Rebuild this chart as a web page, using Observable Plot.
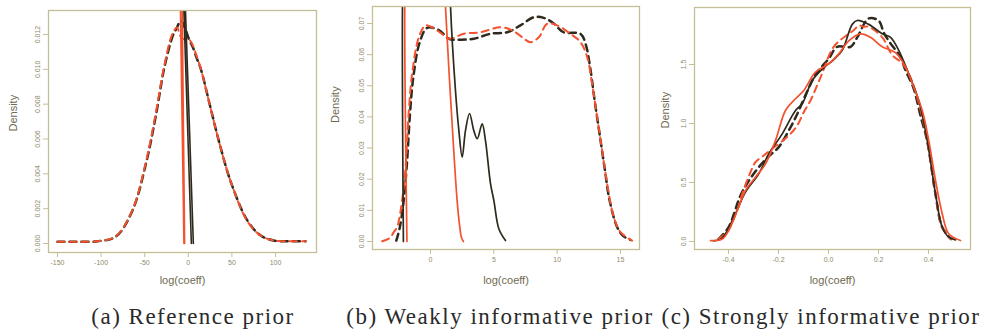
<!DOCTYPE html>
<html>
<head>
<meta charset="utf-8">
<script src="https://cdn.jsdelivr.net/npm/d3@7"></script>
<script src="https://cdn.jsdelivr.net/npm/@observablehq/plot@0.6"></script>
<style>
  html, body { margin: 0; padding: 0; background: #ffffff; }
  #wrap { position: relative; width: 987px; height: 336px; overflow: hidden; background: #fff; }
  .panel { position: absolute; top: 0; }
  .cap { position: absolute; top: 304px; font-family: "Liberation Serif", "DejaVu Serif", serif; font-size: 23px; letter-spacing: 1.5px; color: #2a2a2a; white-space: nowrap; transform: translateX(-50%); }
</style>
</head>
<body>
<div id="wrap">
  <div class="panel" id="pa" style="left:0px"></div>
  <div class="panel" id="pb" style="left:330px"></div>
  <div class="panel" id="pc" style="left:660px"></div>
  <div class="cap" style="left:193px">(a) Reference prior</div>
  <div class="cap" style="left:500px">(b) Weakly informative prior</div>
  <div class="cap" style="left:821px">(c) Strongly informative prior</div>
</div>
<script>
// ---------- Panel (a): Reference prior ----------
const aXTicks = [-150, -100, -50, 0, 50, 100];
const aYTicks = [0, 0.002, 0.004, 0.006, 0.008, 0.010, 0.012];
const aDashRedX = [-150, -130, -104.5, -83.5, -64.3, -49, -37.6, -28, -18.5, -13, -9, -4, 1, 5, 10, 14, 23.5, 35, 48.4, 67.5, 82.8, 98, 115, 134.4];
const aDashRedY = [0.0001, 0.0001, 0.00013, 0.0004, 0.0019, 0.0046, 0.0074, 0.0101, 0.0120, 0.0124, 0.0119, 0.0117, 0.0117, 0.0114, 0.0107, 0.0101, 0.0082, 0.0059, 0.0036, 0.0013, 0.00046, 0.00017, 0.00013, 0.00013];
const aDashDarkX = [-150, -130, -104, -83, -64, -48.5, -37, -27.5, -18, -13, -8.5, -4, 1, 5, 10, 14.5, 24, 35.5, 49, 68, 83, 98, 115, 134.4];
const aDashDarkY = [0.0001, 0.0001, 0.00013, 0.0004, 0.0019, 0.0046, 0.0074, 0.0101, 0.0119, 0.0124, 0.0128, 0.0124, 0.0117, 0.0113, 0.0106, 0.0100, 0.0081, 0.0058, 0.0035, 0.0013, 0.00046, 0.00017, 0.00013, 0.00013];
const aSolidRedX = [-5.0, -9.3, -7.2, -4.2];
const aSolidRedY = [0, 0.0145, 0.0145, 0];
const aSolidDarkX = [3.5, -5.8, -4.0, 5.8];
const aSolidDarkY = [0, 0.0145, 0.0145, 0];

// ---------- Panel (b): Weakly informative prior ----------
const bXTicks = [0, 5, 10, 15];
const bYTicks = [0, 0.01, 0.02, 0.03, 0.04, 0.05, 0.06, 0.07];
const bDashRedX = [-3.81, -3.2, -2.9, -2.63, -2.5, -2.24, -1.97, -1.71, -1.45, -0.92, -0.39, 0.13, 0.8, 1.45, 2.63, 3.95, 5.53, 6.45, 7.24, 7.89, 8.55, 9.21, 10.0, 11.05, 11.84, 12.37, 12.76, 13.16, 13.55, 13.95, 14.47, 15.0, 15.92];
const bDashRedY = [0.0001, 0.0012, 0.003, 0.0046, 0.0067, 0.0132, 0.0239, 0.0421, 0.0539, 0.0656, 0.0694, 0.0688, 0.0670, 0.0651, 0.0667, 0.0672, 0.0688, 0.0678, 0.0656, 0.0640, 0.0656, 0.0699, 0.0694, 0.0667, 0.0640, 0.0592, 0.0506, 0.0399, 0.0292, 0.0185, 0.0078, 0.0030, 0.0003];
const bDashDarkX = [-2.7, -2.45, -2.15, -1.88, -1.62, -1.35, -0.85, -0.26, 0.66, 1.45, 2.37, 3.42, 4.74, 6.05, 7.1, 8.15, 8.94, 9.73, 10.5, 11.84, 12.24, 12.6, 12.95, 13.35, 13.75, 14.15, 14.74, 15.2, 15.79];
const bDashDarkY = [0.0003, 0.004, 0.012, 0.024, 0.041, 0.053, 0.064, 0.0686, 0.0679, 0.0651, 0.0648, 0.0651, 0.0667, 0.0672, 0.0694, 0.0720, 0.0718, 0.0700, 0.0672, 0.0667, 0.0635, 0.0560, 0.0455, 0.0345, 0.0235, 0.0130, 0.0046, 0.0018, 0.0005];
const bSolidRedX = [-1.86, -2.02, -1.9, 1.05, 1.18, 1.6, 2.1, 2.3, 2.45, 2.6];
const bSolidRedY = [0, 0.08, 0.09, 0.09, 0.0755, 0.045, 0.0132, 0.005, 0.0012, 0];
const bSolidDarkX = [-2.14, -2.2, -2.1, 1.5, 1.58, 1.97, 2.24, 2.5, 2.76, 3.08, 3.42, 3.69, 4.08, 4.34, 4.74, 5.0, 5.4, 5.92];
const bSolidDarkY = [0, 0.08, 0.09, 0.09, 0.0755, 0.0485, 0.0356, 0.0271, 0.0356, 0.0411, 0.0356, 0.0330, 0.0378, 0.0324, 0.0185, 0.0132, 0.0040, 0.0003];

// ---------- Panel (c): Strongly informative prior ----------
const cXTicks = [-0.4, -0.2, 0.0, 0.2, 0.4];
const cYTicks = [0.0, 0.5, 1.0, 1.5];
const cSolidRedX = [-0.472, -0.425, -0.399, -0.365, -0.332, -0.292, -0.252, -0.212, -0.172, -0.132, -0.099, -0.052, 0.001, 0.041, 0.081, 0.128, 0.168, 0.215, 0.268, 0.308, 0.335, 0.375, 0.401, 0.428, 0.455, 0.481, 0.528];
const cSolidRedY = [0.008, 0.02, 0.093, 0.263, 0.432, 0.545, 0.658, 0.856, 1.11, 1.21, 1.28, 1.435, 1.506, 1.59, 1.70, 1.76, 1.73, 1.65, 1.60, 1.48, 1.34, 1.11, 0.856, 0.517, 0.235, 0.065, 0.008];
const cSolidDarkX = [-0.46, -0.43, -0.412, -0.372, -0.332, -0.279, -0.239, -0.185, -0.132, -0.105, -0.065, -0.02, 0.02, 0.055, 0.095, 0.115, 0.161, 0.215, 0.248, 0.281, 0.321, 0.361, 0.395, 0.428, 0.455, 0.48, 0.508];
const cSolidDarkY = [0.005, 0.02, 0.065, 0.235, 0.418, 0.574, 0.743, 0.912, 1.11, 1.167, 1.364, 1.47, 1.54, 1.62, 1.84, 1.873, 1.84, 1.76, 1.73, 1.62, 1.42, 1.195, 0.856, 0.404, 0.121, 0.04, 0.014];
const cDashRedX = [-0.44, -0.4, -0.359, -0.345, -0.312, -0.292, -0.259, -0.225, -0.159, -0.125, -0.099, -0.072, -0.03, 0.021, 0.081, 0.101, 0.121, 0.141, 0.161, 0.215, 0.255, 0.295, 0.328, 0.36, 0.395, 0.428, 0.455, 0.49];
const cDashRedY = [0.02, 0.1, 0.305, 0.404, 0.587, 0.672, 0.729, 0.786, 0.898, 0.983, 1.096, 1.195, 1.40, 1.65, 1.76, 1.79, 1.83, 1.82, 1.82, 1.73, 1.58, 1.51, 1.39, 1.18, 0.85, 0.40, 0.12, 0.02];
const cDashDarkX = [-0.44, -0.4, -0.352, -0.32, -0.279, -0.24, -0.199, -0.159, -0.125, -0.09, -0.05, 0.001, 0.035, 0.088, 0.115, 0.161, 0.201, 0.221, 0.241, 0.288, 0.308, 0.34, 0.37, 0.395, 0.428, 0.455, 0.49];
const cDashDarkY = [0.02, 0.12, 0.39, 0.51, 0.63, 0.72, 0.80, 0.94, 1.08, 1.25, 1.42, 1.55, 1.65, 1.65, 1.73, 1.89, 1.87, 1.77, 1.70, 1.56, 1.45, 1.30, 1.05, 0.85, 0.40, 0.12, 0.02];

// ---------- styling ----------
const RED = "#f5512e";
const DARK = "#2f2a1d";
const FRAME = "#c4bf96";
const TICKTXT = "#8e8a6c";
const LABEL = "#6e6a52";

const toRows = (xs, ys) => xs.map((x, i) => ({x, y: ys[i]}));

function panel(cfg) {
  const solidW = cfg.solidW || 1.6;
  return Plot.plot({
    width: cfg.width, height: 290,
    marginLeft: cfg.ml, marginRight: cfg.mr, marginTop: cfg.mt, marginBottom: 290 - cfg.fb,
    x: {domain: cfg.xd},
    y: {domain: cfg.yd},
    style: {background: "transparent", fontFamily: "'Liberation Sans', Arial, sans-serif", color: TICKTXT},
    marks: [
      Plot.axisX(cfg.xt, {tickSize: 5, tickPadding: 3, fontSize: 7, stroke: FRAME, fill: TICKTXT, label: null, tickFormat: cfg.xf}),
      Plot.axisY(cfg.yt, {tickSize: 5, tickPadding: 4, fontSize: 7, tickRotate: -90, stroke: FRAME, fill: TICKTXT, label: null, tickFormat: cfg.yf}),
      Plot.line(toRows(cfg.dd[0], cfg.dd[1]), {x: "x", y: "y", stroke: DARK, strokeWidth: 2.5, strokeDasharray: "7,5", curve: "catmull-rom", clip: true}),
      Plot.line(toRows(cfg.dr[0], cfg.dr[1]), {x: "x", y: "y", stroke: RED, strokeWidth: 2.0, strokeDasharray: "7,5", curve: "catmull-rom", clip: true}),
      Plot.line(toRows(cfg.sd[0], cfg.sd[1]), {x: "x", y: "y", stroke: DARK, strokeWidth: solidW, curve: cfg.sCurve, clip: true}),
      Plot.line(toRows(cfg.sr[0], cfg.sr[1]), {x: "x", y: "y", stroke: RED, strokeWidth: solidW, curve: cfg.sCurve, clip: true}),
      Plot.frame({stroke: FRAME, strokeWidth: 1.3}),
      Plot.text(["log(coeff)"], {frameAnchor: "bottom", dy: cfg.xlDy, fontSize: 11, fill: LABEL}),
      Plot.text(["Density"], {frameAnchor: "left", dx: cfg.ylDx, dy: cfg.ylDy || 0, rotate: -90, fontSize: 11, fill: LABEL})
    ]
  });
}

document.getElementById("pa").append(panel({
  width: 330, ml: 48, mr: 14, mt: 10, fb: 252,
  xd: [-160.3, 147.0], yd: [-0.000517, 0.01338],
  xt: aXTicks, yt: aYTicks, xf: d => String(d), yf: d => d.toFixed(3),
  dr: [aDashRedX, aDashRedY], dd: [aDashDarkX, aDashDarkY],
  sr: [aSolidRedX, aSolidRedY], sd: [aSolidDarkX, aSolidDarkY],
  sCurve: "linear", solidW: 1.6, xlDy: 31, ylDx: -35
}));

document.getElementById("pb").append(panel({
  width: 330, ml: 42, mr: 21, mt: 6, fb: 249,
  xd: [-4.58, 16.5], yd: [-0.00257, 0.07546],
  xt: bXTicks, yt: bYTicks, xf: d => String(d), yf: d => d.toFixed(2),
  dr: [bDashRedX, bDashRedY], dd: [bDashDarkX, bDashDarkY],
  sr: [bSolidRedX, bSolidRedY], sd: [bSolidDarkX, bSolidDarkY],
  sCurve: "catmull-rom", solidW: 1.7, xlDy: 34, ylDx: -37, ylDy: -5
}));

document.getElementById("pc").append(panel({
  width: 327, ml: 34, mr: 17, mt: 7, fb: 249,
  xd: [-0.536, 0.568], yd: [-0.068, 1.983],
  xt: cXTicks, yt: cYTicks, xf: d => d.toFixed(1), yf: d => d.toFixed(1),
  dr: [cDashRedX, cDashRedY], dd: [cDashDarkX, cDashDarkY],
  sr: [cSolidRedX, cSolidRedY], sd: [cSolidDarkX, cSolidDarkY],
  sCurve: "catmull-rom", solidW: 1.7, xlDy: 34, ylDx: -29
}));
</script>
</body>
</html>
